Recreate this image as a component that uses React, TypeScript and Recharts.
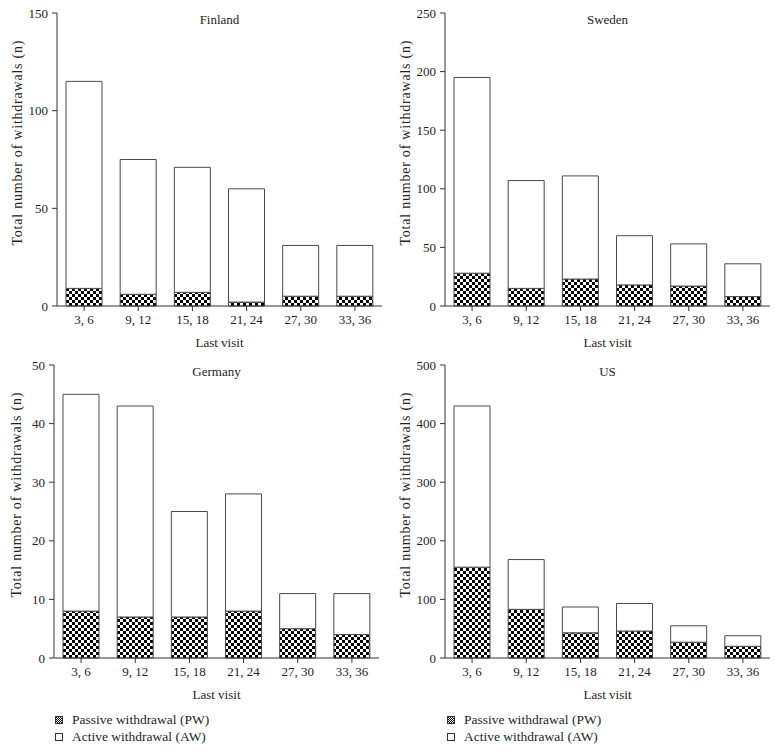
import React from 'react';
import { BarChart, Bar, XAxis, YAxis, Label } from 'recharts';

// last visit windows (months)
const visits = ['3, 6', '9, 12', '15, 18', '21, 24', '27, 30', '33, 36'];

const finlandTotal = [115, 75, 71, 60, 31, 31];
const finlandPassive = [9, 6, 7, 2, 5, 5];
const finlandTicks = [0, 50, 100, 150];

const swedenTotal = [195, 107, 111, 60, 53, 36];
const swedenPassive = [28, 15, 23, 18, 17, 8];
const swedenTicks = [0, 50, 100, 150, 200, 250];

const germanyTotal = [45, 43, 25, 28, 11, 11];
const germanyPassive = [8, 7, 7, 8, 5, 4];
const germanyTicks = [0, 10, 20, 30, 40, 50];

const usTotal = [430, 168, 87, 93, 55, 38];
const usPassive = [155, 83, 43, 46, 27, 20];
const usTicks = [0, 100, 200, 300, 400, 500];

const FONT = '"Liberation Serif", "DejaVu Serif", serif';
const INK = '#231f20';
const EDGE = '#4a4a4a';

const PANEL_W = 390;
const PANEL_H = 352;
const PLOT_W = 325;
const Y_AXIS_W = 45;

interface PanelProps {
  id: string;
  title: string;
  total: number[];
  passive: number[];
  ticks: number[];
  x: number;
  y: number;
  plotLeft: number;
  titleX: number;
}

const Panel: React.FC<PanelProps> = ({ id, title, total, passive, ticks, x, y, plotLeft, titleX }) => {
  // passive sits at the bottom, the rest of the total is active
  const data = visits.map((v, i) => ({ visit: v, passive: passive[i], active: total[i] - passive[i] }));
  const yMax = ticks[ticks.length - 1];

  return (
    <div style={{ position: 'absolute', left: x, top: y, width: PANEL_W, height: PANEL_H }}>
      <BarChart
        width={PANEL_W}
        height={PANEL_H}
        data={data}
        barSize={36}
        margin={{ top: 13, right: PANEL_W - plotLeft - PLOT_W, bottom: 0, left: plotLeft - Y_AXIS_W }}
      >
        <defs>
          <pattern id={`chk-${id}`} width={6} height={6} patternUnits="userSpaceOnUse">
            <rect x={0} y={0} width={6} height={6} fill="#fff" />
            <rect x={0} y={0} width={3} height={3} fill="#000" />
            <rect x={3} y={3} width={3} height={3} fill="#000" />
          </pattern>
        </defs>
        <XAxis
          dataKey="visit"
          height={46}
          stroke="#333"
          tickSize={5}
          tickMargin={4}
          tick={{ fontSize: 13, fill: INK, fontFamily: FONT }}
        >
          <Label
            content={({ viewBox }: any) => (
              <text
                x={viewBox.x + viewBox.width / 2}
                y={viewBox.y + 36}
                textAnchor="middle"
                dominantBaseline="central"
                fontSize={13}
                fill={INK}
                fontFamily={FONT}
              >
                Last visit
              </text>
            )}
          />
        </XAxis>
        <YAxis
          type="number"
          domain={[0, yMax]}
          ticks={ticks}
          width={Y_AXIS_W}
          stroke="#333"
          tickSize={5}
          tickMargin={4}
          tick={{ fontSize: 13, fill: INK, fontFamily: FONT }}
        >
          <Label
            content={() => (
              <text
                x={titleX}
                y={143}
                transform={`rotate(-90 ${titleX} 143)`}
                textAnchor="middle"
                dominantBaseline="central"
                fontSize={14}
                textLength={205}
                lengthAdjust="spacing"
                fill={INK}
                fontFamily={FONT}
              >
                Total number of withdrawals (n)
              </text>
            )}
          />
        </YAxis>
        <Bar dataKey="passive" stackId="w" fill={`url(#chk-${id})`} stroke={EDGE} strokeWidth={1} isAnimationActive={false} />
        <Bar dataKey="active" stackId="w" fill="#fff" stroke={EDGE} strokeWidth={1} isAnimationActive={false} />
      </BarChart>
      <div
        style={{
          position: 'absolute',
          left: plotLeft,
          width: PLOT_W,
          top: 12,
          textAlign: 'center',
          fontSize: 13,
          lineHeight: '16px',
          color: INK,
          fontFamily: FONT,
        }}
      >
        {title}
      </div>
    </div>
  );
};

const LegendBox: React.FC<{ x: number; y: number; id: string }> = ({ x, y, id }) => (
  <div style={{ position: 'absolute', left: x, top: y, fontFamily: FONT, fontSize: 13.5, color: INK, lineHeight: '17px' }}>
    <div style={{ display: 'flex', alignItems: 'center' }}>
      <svg width={8} height={8} style={{ marginRight: 9 }}>
        <defs>
          <pattern id={`lg-${id}`} width={2} height={2} patternUnits="userSpaceOnUse">
            <rect x={0} y={0} width={2} height={2} fill="#fff" />
            <rect x={0} y={0} width={1} height={1} fill="#000" />
            <rect x={1} y={1} width={1} height={1} fill="#000" />
          </pattern>
        </defs>
        <rect x={0.5} y={0.5} width={7} height={7} fill={`url(#lg-${id})`} stroke="#333" />
      </svg>
      <span>Passive withdrawal (PW)</span>
    </div>
    <div style={{ display: 'flex', alignItems: 'center' }}>
      <svg width={8} height={8} style={{ marginRight: 9 }}>
        <rect x={0.5} y={0.5} width={7} height={7} fill="#fff" stroke="#333" />
      </svg>
      <span>Active withdrawal (AW)</span>
    </div>
  </div>
);

export default function App() {
  return (
    <div style={{ position: 'absolute', left: 0, top: 0, width: 779, height: 754, background: '#fff' }}>
      <Panel id="fi" title="Finland" total={finlandTotal} passive={finlandPassive} ticks={finlandTicks} x={0} y={0} plotLeft={57} titleX={17} />
      <Panel id="se" title="Sweden" total={swedenTotal} passive={swedenPassive} ticks={swedenTicks} x={388} y={0} plotLeft={57} titleX={17} />
      <Panel id="de" title="Germany" total={germanyTotal} passive={germanyPassive} ticks={germanyTicks} x={0} y={352} plotLeft={54} titleX={16} />
      <Panel id="us" title="US" total={usTotal} passive={usPassive} ticks={usTicks} x={388} y={352} plotLeft={57} titleX={17} />
      <LegendBox id="l" x={55} y={711} />
      <LegendBox id="r" x={447} y={711} />
    </div>
  );
}
